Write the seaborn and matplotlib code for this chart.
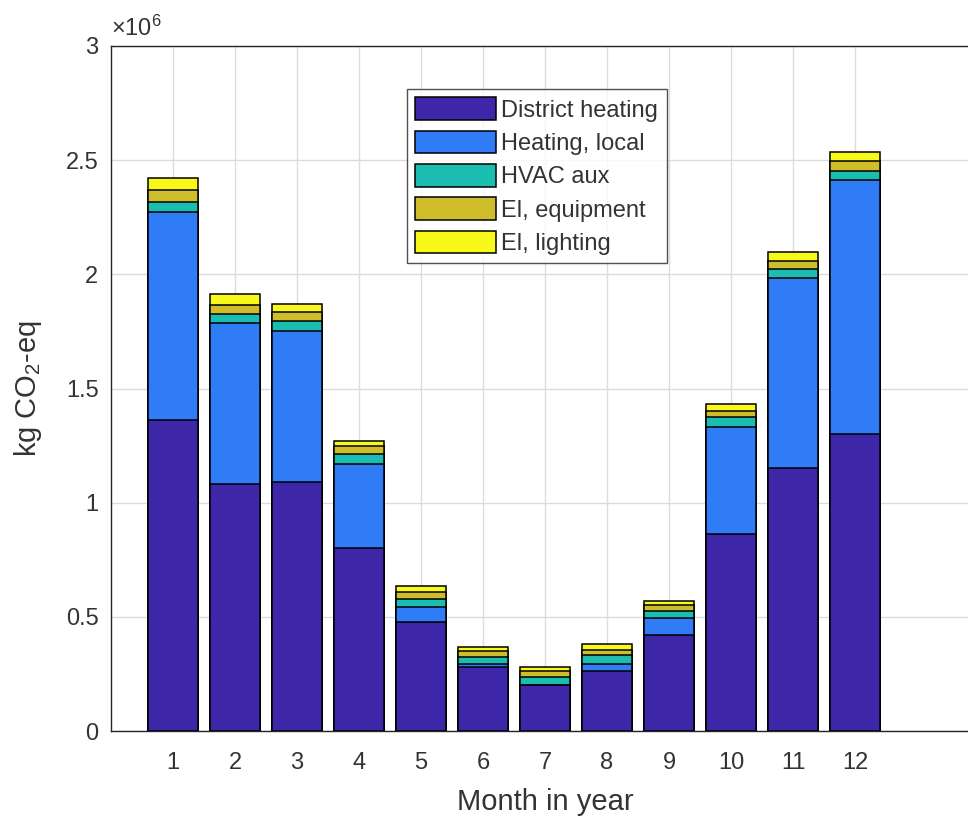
import numpy as np
import pandas as pd
import seaborn as sns
import matplotlib.pyplot as plt
from matplotlib.patches import Patch

# Monthly emissions, in 10^6 kg CO2-eq
months = list(range(1, 13))
district_heating = [1.362, 1.082, 1.091, 0.800, 0.476, 0.280, 0.203, 0.264, 0.420, 0.862, 1.152, 1.300]
heating_local = [0.911, 0.705, 0.662, 0.368, 0.068, 0.012, 0.000, 0.028, 0.074, 0.471, 0.831, 1.112]
hvac_aux = [0.044, 0.039, 0.044, 0.044, 0.034, 0.033, 0.035, 0.042, 0.033, 0.044, 0.041, 0.042]
el_equipment = [0.053, 0.040, 0.037, 0.036, 0.029, 0.027, 0.026, 0.019, 0.025, 0.026, 0.036, 0.044]
el_lighting = [0.052, 0.048, 0.036, 0.023, 0.028, 0.017, 0.018, 0.027, 0.019, 0.029, 0.037, 0.037]

series_names = ['District heating', 'Heating, local', 'HVAC aux', 'El, equipment', 'El, lighting']
colors = ['#3D27A8', '#307CF6', '#1CBDB1', '#CFBD2B', '#F8F81A']

sns.set_style('white')
plt.rcParams['font.family'] = ['Liberation Sans', 'DejaVu Sans']
plt.rcParams['mathtext.fontset'] = 'custom'
plt.rcParams['mathtext.rm'] = 'Liberation Sans'
plt.rcParams['mathtext.it'] = 'Liberation Sans'

df = pd.DataFrame({'month': months})
layers = [district_heating, heating_local, hvac_aux, el_equipment, el_lighting]
cum = np.cumsum(np.array(layers), axis=0)

fig = plt.figure(figsize=(9.68, 8.18), dpi=100)
ax = fig.add_axes([111 / 968, 87 / 818, 868 / 968, 685 / 818])

# draw stacked bars from the top layer down so each lower layer covers the one above
for i in range(len(layers) - 1, -1, -1):
    df['value'] = cum[i]
    sns.barplot(data=df, x='month', y='value', native_scale=True, color=colors[i],
                saturation=1, width=0.8, edgecolor='black', linewidth=1.1,
                errorbar=None, ax=ax, zorder=3)

ax.set_xlim(0, 14)
ax.set_ylim(0, 3)
ax.set_xticks(months)
ax.set_yticks([0, 0.5, 1, 1.5, 2, 2.5, 3])
ax.set_yticklabels(['0', '0.5', '1', '1.5', '2', '2.5', '3'])
ax.grid(True, color='#DCDCDC', linewidth=1)
ax.set_axisbelow(True)
ax.tick_params(direction='in', length=5, colors='#333333', labelsize=17)
ax.tick_params(axis='x', pad=15)
ax.tick_params(axis='y', pad=9)
for s in ax.spines.values():
    s.set_color('#262626')
    s.set_linewidth(1)

ax.set_xlabel('Month in year', fontsize=21, color='#333333', labelpad=10)
ax.set_ylabel('kg CO$_2$-eq', fontsize=21, color='#333333', labelpad=16)
ax.text(0.0, 1.008, r'$\times10^{6}$', transform=ax.transAxes, fontsize=17,
        color='#333333', ha='left', va='bottom')

handles = [Patch(facecolor=c, edgecolor='black', linewidth=1.1) for c in colors]
leg = ax.legend(handles, series_names, loc='upper left', bbox_to_anchor=(0.341, 0.937),
                fontsize=17, frameon=True, fancybox=False, edgecolor='#262626',
                handlelength=3.4, handleheight=1.1, handletextpad=0.25,
                labelspacing=0.38, borderpad=0.35, borderaxespad=0)
leg.get_frame().set_linewidth(1)
for t in leg.get_texts():
    t.set_color('#333333')

fig.savefig('out.png', dpi=100)
